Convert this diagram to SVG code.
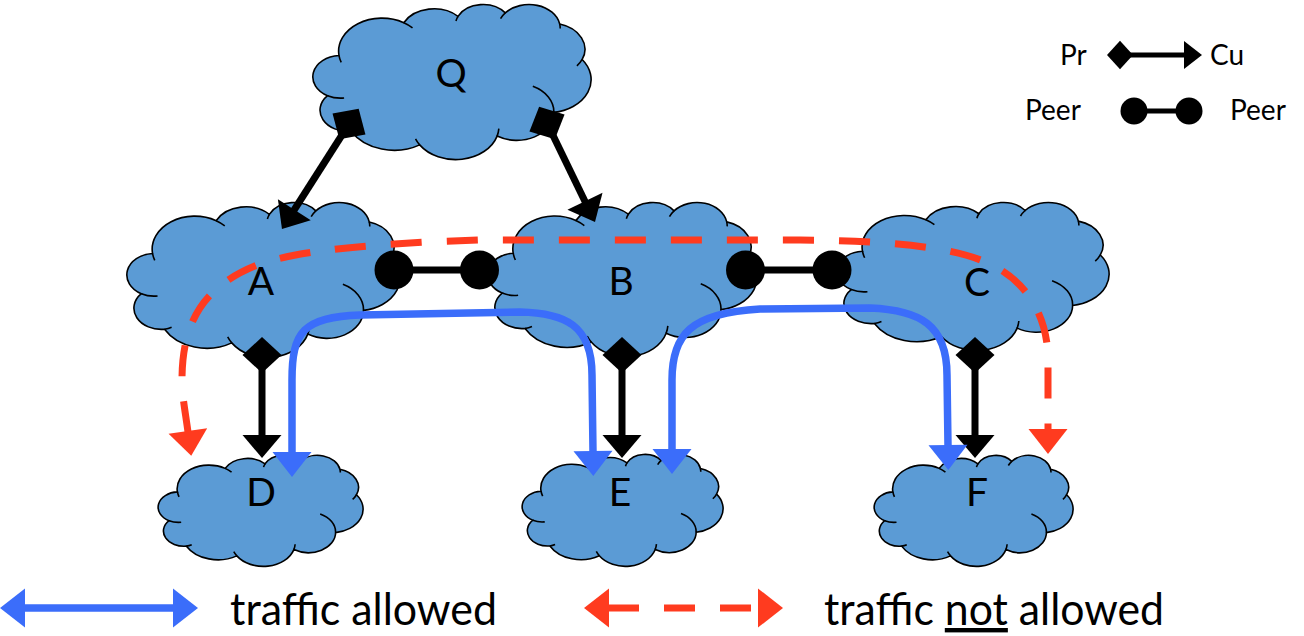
<svg xmlns="http://www.w3.org/2000/svg" width="1304" height="636" viewBox="0 0 1304 636">
<style>
.cloud{fill:#5B9BD5;stroke:#000;stroke-width:1.6;vector-effect:non-scaling-stroke}
.wr{fill:none;stroke:#000;stroke-width:1.6;vector-effect:non-scaling-stroke}
.lbl{font-family:Lato,"Open Sans","Liberation Sans",sans-serif;font-size:39px;fill:#000;text-anchor:middle}
.leg{font-family:Lato,"Open Sans","Liberation Sans",sans-serif;font-size:28px;fill:#000}
.big{font-family:Lato,"Open Sans","Liberation Sans",sans-serif;font-size:44px;fill:#000}
.pc{fill:none;stroke:#000;stroke-width:7;marker-start:url(#dia);marker-end:url(#arr)}
.peer{fill:none;stroke:#000;stroke-width:7;marker-start:url(#dot);marker-end:url(#dot)}
.ok{fill:none;stroke:#3B6DFA;stroke-width:7.5;marker-start:url(#barr);marker-end:url(#barr)}
.no{fill:none;stroke:#FF3B1F;stroke-width:7;stroke-dasharray:31 25;marker-start:url(#rarr);marker-end:url(#rarr)}
.pcs{fill:none;stroke:#000;stroke-width:5;marker-start:url(#dias);marker-end:url(#arrs)}
.peers{fill:none;stroke:#000;stroke-width:5;marker-start:url(#dots);marker-end:url(#dots)}
</style>
<defs>
<path id="cloud" class="cloud" d="M3900,14370 A6753,9190 0 0 1 14006,5203 A5333,7267 0 0 1 22456,3432 A4365,5945 0 0 1 29834,2482 A4857,6595 0 0 1 38320,5577 A5333,7273 0 0 1 41820,15461 A6775,9220 0 0 1 37405,30202 A5785,7867 0 0 1 28557,36813 A6752,9215 0 0 1 16482,39265 A7720,10543 0 0 1 5806,35471 A4360,5918 0 0 1 2115,25549 A4345,5945 0 0 1 3900,14370 Z"/>
<path id="wrinkles" class="wr" d="M4246,16275 A6753,9190 0 0 1 3900,14370 M14006,5203 A6753,9190 0 0 1 15366,6633 M22141,4720 A4365,5945 0 0 1 22456,3432 M29093,4093 A4857,6595 0 0 1 29834,2482 M38320,5577 A4857,6595 0 0 1 38396,6838 M41820,15461 A5333,7273 0 0 1 41004,17270 M34129,22954 A5785,7867 0 0 1 37405,30202 M28827,34751 A6752,9215 0 0 1 28557,36813 M16482,39265 A6752,9215 0 0 1 15835,37594 M6928,34899 A4360,5918 0 0 1 5806,35471 M4693,26177 A4345,5945 0 0 1 2115,25549"/>
<marker id="dia" markerUnits="userSpaceOnUse" viewBox="-20 -20 40 40" markerWidth="40" markerHeight="40" refX="0" refY="0" orient="auto"><path d="M-18,0L0,-19.5L18,0L0,19.5Z" fill="#000"/></marker>
<marker id="arr" markerUnits="userSpaceOnUse" viewBox="-2 -20 26 40" markerWidth="26" markerHeight="40" refX="0" refY="0" orient="auto"><path d="M-1,-19.5L22,0L-1,19.5Z" fill="#000"/></marker>
<marker id="dot" markerUnits="userSpaceOnUse" viewBox="-20 -20 40 40" markerWidth="40" markerHeight="40" refX="0" refY="0" orient="auto"><circle r="19.5" fill="#000"/></marker>
<marker id="barr" markerUnits="userSpaceOnUse" viewBox="-2 -21 28 42" markerWidth="28" markerHeight="42" refX="0" refY="0" orient="auto-start-reverse"><path d="M-1,-19.5L24,0L-1,19.5Z" fill="#3B6DFA"/></marker>
<marker id="rarr" markerUnits="userSpaceOnUse" viewBox="-2 -21 28 42" markerWidth="28" markerHeight="42" refX="0" refY="0" orient="auto-start-reverse"><path d="M-1,-19.5L24,0L-1,19.5Z" fill="#FF3B1F"/></marker>
<marker id="dias" markerUnits="userSpaceOnUse" viewBox="-15 -15 30 30" markerWidth="30" markerHeight="30" refX="0" refY="0" orient="auto"><path d="M-13,0L0,-14.3L13,0L0,14.3Z" fill="#000"/></marker>
<marker id="arrs" markerUnits="userSpaceOnUse" viewBox="-2 -15 20 30" markerWidth="20" markerHeight="30" refX="0" refY="0" orient="auto"><path d="M-1,-14L17,0L-1,14Z" fill="#000"/></marker>
<marker id="dots" markerUnits="userSpaceOnUse" viewBox="-15 -15 30 30" markerWidth="30" markerHeight="30" refX="0" refY="0" orient="auto"><circle r="13.5" fill="#000"/></marker>
</defs>
<rect width="1304" height="636" fill="#fff"/>
<g id="node-Q">
<use href="#cloud" transform="translate(314,4) scale(0.006412,0.003588)"/>
<use href="#wrinkles" transform="translate(314,4) scale(0.006412,0.003588)"/>
<text class="lbl" x="451" y="87">Q</text>
</g>
<g id="node-A">
<use href="#cloud" transform="translate(128,202) scale(0.0062963,0.003588)"/>
<use href="#wrinkles" transform="translate(128,202) scale(0.0062963,0.003588)"/>
<text class="lbl" x="261" y="295">A</text>
</g>
<g id="node-B">
<use href="#cloud" transform="translate(489,202) scale(0.0062037,0.0035648)"/>
<use href="#wrinkles" transform="translate(489,202) scale(0.0062037,0.0035648)"/>
<text class="lbl" x="621" y="295">B</text>
</g>
<g id="node-C">
<use href="#cloud" transform="translate(838,202) scale(0.0062731,0.0034259)"/>
<use href="#wrinkles" transform="translate(838,202) scale(0.0062731,0.0034259)"/>
<text class="lbl" x="977" y="296">C</text>
</g>
<g id="node-D">
<use href="#cloud" transform="translate(159,455) scale(0.0047222,0.0025694)"/>
<use href="#wrinkles" transform="translate(159,455) scale(0.0047222,0.0025694)"/>
<text class="lbl" x="261" y="506">D</text>
</g>
<g id="node-E">
<use href="#cloud" transform="translate(523,454) scale(0.0046296,0.0025926)"/>
<use href="#wrinkles" transform="translate(523,454) scale(0.0046296,0.0025926)"/>
<text class="lbl" x="620" y="506">E</text>
</g>
<g id="node-F">
<use href="#cloud" transform="translate(875,455) scale(0.0045833,0.0025694)"/>
<use href="#wrinkles" transform="translate(875,455) scale(0.0045833,0.0025694)"/>
<text class="lbl" x="977" y="506">F</text>
</g>
<g id="connectors">
<path class="pc" d="M349,124 L293.8,210.5"/>
<path class="pc" d="M547,123 L585.4,202.2"/>
<path class="pc" d="M262,355 L262,436"/>
<path class="pc" d="M622,355 L622,436"/>
<path class="pc" d="M975,355 L975,436"/>
<path class="peer" d="M394,270 L479.5,270"/>
<path class="peer" d="M745.5,270 L832,270"/>
<path class="no" d="M188,432 C185,410 182,395 182,380 C182,320 205,285 260,264 C300,250 380,243 480,240 L800,240 C880,241 950,245 990,264 C1030,283 1048,320 1048,360 L1048,430"/>
<path class="ok" d="M292,453 L292,380 C292,332 303,317 360,315 L520,312 C565,313 592,325 592,375 L593,452"/>
<path class="ok" d="M672,450 L672,380 C672,335 690,313 760,309 L870,308 C920,310 947,325 947,375 L948,446"/>
</g>
<g id="legend">
<text class="leg" x="1060" y="65">Pr</text>
<path class="pcs" d="M1120,55 L1185,55"/>
<text class="leg" x="1210" y="65">Cu</text>
<text class="leg" x="1025" y="120">Peer</text>
<path class="peers" d="M1134,111 L1189,111"/>
<text class="leg" x="1230" y="120">Peer</text>
<path class="ok" d="M24,608 L174,608"/>
<text class="big" x="230" y="625" textLength="267" lengthAdjust="spacingAndGlyphs">traffic allowed</text>
<path class="no" d="M608,608 L759,608"/>
<text class="big" x="824" y="625" textLength="340" lengthAdjust="spacingAndGlyphs">traffic <tspan text-decoration="underline">not</tspan> allowed</text>
</g>
</svg>
